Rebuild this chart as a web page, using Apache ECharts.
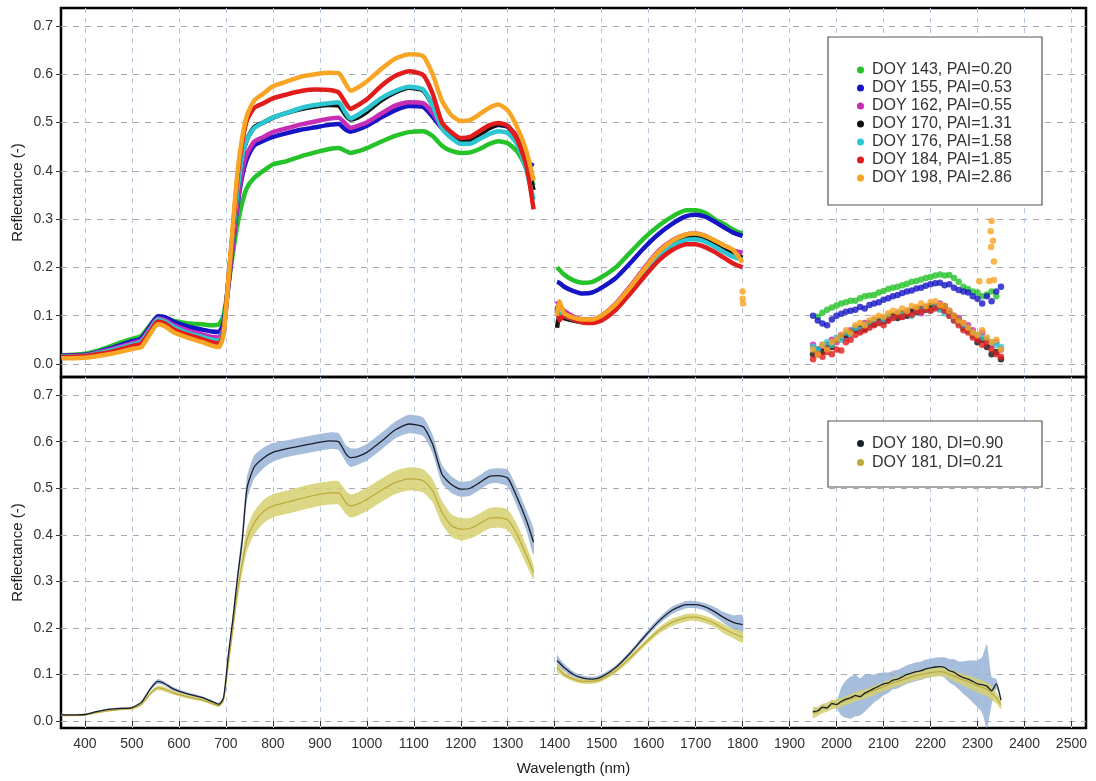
<!DOCTYPE html>
<html>
<head>
<meta charset="utf-8">
<script src="https://cdn.jsdelivr.net/npm/echarts@6/dist/echarts.min.js"></script>
<style>
  html, body { margin: 0; padding: 0; background: #fff; }
  #chart { width: 1096px; height: 781px; }
</style>
</head>
<body>
<div id="chart"></div>
<script>
// ---- wavelength grids (nm) for the three usable spectral windows ----
const wlA = [350,375,400,425,450,475,500,520,540,555,570,590,620,650,670,685,695,705,715,725,735,745,760,780,800,830,860,890,920,940,955,965,980,1000,1030,1060,1090,1120,1140,1160,1180,1200,1220,1240,1260,1280,1300,1320,1340,1355];
const wlB = [1405,1410,1420,1440,1460,1480,1500,1530,1560,1590,1620,1650,1680,1700,1720,1740,1760,1780,1800];
const wlC = [1950,1960,1970,1980,1990,2000,2010,2020,2030,2040,2050,2060,2070,2080,2090,2100,2110,2120,2130,2140,2150,2160,2170,2180,2190,2200,2210,2220,2230,2240,2250,2260,2270,2280,2290,2300,2310,2320,2330,2340,2350];

// ---- axis ticks ----
const xTicks = [400,500,600,700,800,900,1000,1100,1200,1300,1400,1500,1600,1700,1800,1900,2000,2100,2200,2300,2400,2500];
const yTicks = [0,0.1,0.2,0.3,0.4,0.5,0.6,0.7];

// ---- upper panel: reflectance by acquisition date ----
const namesTop = ['DOY 143, PAI=0.20','DOY 155, PAI=0.53','DOY 162, PAI=0.55','DOY 170, PAI=1.31','DOY 176, PAI=1.58','DOY 184, PAI=1.85','DOY 198, PAI=2.86'];
const colorsTop = ['#26c229','#1515c6','#c42db4','#111111','#2cc6d2','#e11c1c','#f8a424'];

const r143A = [.018,.019,.021,.027,.035,.044,.052,.058,.082,.098,.096,.089,.084,.082,.080,.082,.10,.16,.23,.29,.335,.365,.385,.40,.413,.42,.43,.438,.445,.447,.441,.437,.44,.447,.46,.472,.48,.482,.472,.452,.441,.437,.438,.445,.455,.461,.457,.44,.405,.37];
const r155A = [.017,.018,.019,.024,.031,.039,.047,.053,.080,.099,.097,.087,.077,.071,.067,.066,.085,.16,.25,.33,.39,.425,.452,.462,.47,.478,.485,.49,.495,.497,.485,.481,.485,.493,.51,.525,.534,.532,.512,.488,.47,.463,.464,.476,.488,.495,.491,.468,.42,.41];
const r162A = [.016,.017,.018,.023,.029,.036,.043,.049,.076,.094,.091,.080,.069,.061,.056,.055,.075,.16,.25,.335,.40,.435,.46,.47,.48,.488,.496,.502,.508,.51,.497,.489,.493,.50,.518,.535,.542,.54,.52,.49,.474,.467,.468,.48,.492,.497,.492,.47,.415,.38];
const r170A = [.015,.016,.017,.021,.026,.032,.038,.044,.071,.090,.086,.074,.062,.053,.047,.044,.070,.17,.27,.36,.43,.465,.49,.50,.51,.52,.528,.533,.536,.535,.515,.506,.51,.522,.545,.562,.572,.566,.535,.49,.47,.461,.462,.474,.488,.496,.492,.465,.415,.36];
const r176A = [.015,.016,.017,.022,.027,.033,.040,.046,.073,.092,.088,.076,.064,.056,.050,.048,.070,.17,.27,.36,.43,.465,.488,.50,.51,.52,.53,.536,.54,.542,.52,.508,.515,.528,.55,.565,.574,.568,.535,.488,.468,.456,.456,.466,.476,.482,.478,.455,.40,.34];
const r184A = [.014,.015,.016,.020,.024,.030,.037,.042,.069,.088,.084,.071,.060,.051,.045,.042,.065,.17,.28,.39,.46,.505,.53,.54,.55,.558,.565,.568,.567,.562,.54,.528,.535,.548,.575,.596,.606,.598,.56,.50,.48,.468,.47,.482,.494,.499,.493,.465,.41,.32];
const r198A = [.012,.012,.013,.016,.020,.025,.031,.035,.064,.082,.078,.065,.054,.045,.038,.035,.060,.17,.29,.40,.47,.515,.545,.56,.575,.585,.595,.60,.603,.602,.58,.566,.572,.585,.61,.632,.641,.637,.60,.545,.515,.503,.505,.517,.53,.537,.525,.49,.44,.38];

const r143B = [.20,.195,.185,.173,.168,.17,.18,.20,.23,.26,.285,.305,.318,.318,.313,.30,.29,.278,.27];
const r155B = [.17,.168,.16,.151,.146,.148,.158,.178,.208,.24,.268,.29,.306,.309,.305,.295,.283,.272,.265];
const r162B = [.13,.12,.11,.098,.092,.092,.10,.125,.16,.198,.233,.256,.268,.27,.265,.255,.245,.235,.23];
const r170B = [.075,.10,.095,.09,.087,.088,.096,.12,.155,.192,.226,.249,.261,.262,.257,.247,.236,.226,.22];
const r176B = [.11,.105,.10,.092,.088,.088,.095,.118,.152,.188,.222,.245,.257,.258,.253,.243,.232,.222,.215];
const r184B = [.12,.09,.10,.092,.086,.085,.09,.112,.145,.18,.213,.236,.248,.248,.242,.232,.22,.208,.20];
const r198B = [.10,.13,.105,.096,.092,.092,.10,.124,.158,.196,.231,.255,.268,.27,.265,.256,.246,.236,.21];

const r143C = [null,.098,.106,.112,.117,.121,.125,.128,.131,.131,.136,.14,.142,.143,.148,.151,.155,.158,.16,.163,.166,.17,.172,.175,.178,.18,.183,.185,.183,.184,.178,.17,.16,.155,.15,.148,.14,.144,.15,.14,null];
const r155C = [.10,.09,.084,.08,.092,.10,.104,.108,.11,.112,.118,.115,.122,.125,.128,.133,.136,.14,.143,.147,.15,.152,.156,.158,.162,.165,.167,.168,.163,.165,.158,.153,.15,.148,.14,.135,.125,.14,.13,.15,.16];
const r162C = [.04,.02,.035,.03,.05,.045,.06,.055,.07,.075,.068,.085,.08,.09,.086,.095,.09,.10,.105,.098,.11,.108,.115,.105,.118,.112,.12,.125,.115,.11,.10,.095,.085,.08,.07,.06,.065,.05,.04,.045,.03];
const r170C = [.02,.03,.025,.04,.035,.05,.055,.06,.065,.07,.075,.072,.085,.082,.09,.088,.095,.10,.095,.105,.10,.11,.108,.115,.112,.12,.118,.115,.12,.105,.098,.09,.075,.07,.06,.045,.05,.035,.02,.025,.01];
const r176C = [.035,.03,.04,.045,.04,.055,.05,.065,.06,.075,.07,.08,.078,.09,.085,.092,.10,.095,.105,.102,.108,.10,.112,.11,.115,.11,.118,.112,.105,.10,.09,.085,.078,.07,.062,.06,.055,.05,.045,.04,.035];
const r184C = [.01,.02,.015,.025,.02,.03,.028,.045,.05,.06,.065,.07,.075,.08,.085,.08,.09,.095,.10,.097,.105,.102,.11,.108,.113,.11,.115,.12,.11,.10,.09,.08,.07,.065,.055,.05,.04,.045,.03,.02,.015];
const r198C = [.03,.02,.04,.03,.045,.05,.06,.07,.065,.08,.085,.08,.09,.095,.10,.098,.105,.11,.108,.115,.11,.12,.118,.125,.12,.128,.13,.122,.12,.11,.10,.09,.085,.075,.065,.06,.07,.055,.045,.05,.03];

// isolated noisy readings of DOY 198
const r198OddX = [2304,2325,2335,2329,2333,2328,2330,2335,1800,1800,1801];
const r198OddY = [.171,.172,.174,.242,.255,.275,.296,.212,.15,.135,.125];

// ---- lower panel: mean reflectance and spread (half-width) ----
const namesBot = ['DOY 180, DI=0.90','DOY 181, DI=0.21'];

const m180A = [.013,.013,.014,.02,.025,.027,.029,.04,.07,.085,.08,.068,.058,.05,.042,.036,.05,.14,.22,.31,.39,.50,.545,.565,.577,.585,.591,.597,.602,.60,.575,.566,.568,.577,.60,.625,.638,.632,.595,.53,.508,.498,.50,.512,.525,.527,.522,.48,.43,.384];
const s180A = [.002,.002,.002,.002,.002,.002,.002,.003,.004,.005,.004,.004,.003,.003,.003,.003,.004,.006,.01,.015,.02,.025,.025,.022,.02,.018,.018,.018,.018,.018,.018,.02,.018,.018,.018,.018,.02,.02,.02,.02,.018,.016,.016,.016,.016,.016,.018,.02,.022,.028];
const m181A = [.012,.012,.013,.018,.022,.025,.027,.036,.06,.071,.068,.06,.052,.045,.038,.033,.045,.12,.2,.28,.34,.39,.425,.45,.462,.47,.478,.485,.49,.49,.47,.462,.466,.476,.495,.512,.52,.516,.495,.448,.42,.412,.414,.424,.435,.437,.432,.40,.355,.319];
const s181A = [.002,.002,.002,.002,.002,.002,.003,.003,.004,.005,.005,.004,.004,.003,.003,.003,.005,.008,.012,.018,.022,.025,.025,.025,.025,.025,.025,.025,.025,.025,.025,.025,.025,.025,.025,.025,.025,.025,.025,.025,.024,.024,.022,.022,.022,.022,.022,.022,.02,.015];

const m180B = [.13,.125,.115,.10,.092,.09,.095,.115,.145,.18,.213,.238,.25,.25,.245,.235,.222,.212,.207];
const s180B = [.012,.01,.008,.006,.005,.005,.005,.005,.005,.006,.007,.008,.008,.008,.008,.01,.012,.015,.02];
const m181B = [.115,.11,.10,.09,.085,.085,.09,.108,.135,.165,.193,.212,.222,.223,.218,.21,.198,.188,.18];
const s181B = [.01,.008,.006,.005,.005,.005,.005,.005,.006,.006,.007,.008,.008,.008,.008,.008,.01,.01,.012];

const m180C = [.02,.022,.03,.028,.038,.035,.042,.047,.05,.055,.052,.06,.065,.07,.075,.08,.082,.088,.09,.095,.10,.103,.106,.108,.112,.114,.116,.117,.115,.108,.105,.098,.093,.09,.085,.08,.078,.075,.065,.08,.045];
const s180C = [.006,.006,.006,.006,.006,.008,.03,.04,.045,.045,.04,.04,.035,.03,.028,.025,.022,.02,.02,.02,.02,.02,.02,.02,.02,.02,.02,.02,.022,.025,.028,.03,.035,.04,.045,.05,.06,.09,.03,.01,.005];
const m181C = [.018,.02,.027,.03,.035,.037,.04,.044,.048,.052,.055,.058,.062,.066,.07,.074,.078,.082,.085,.088,.092,.095,.098,.10,.102,.104,.105,.106,.105,.10,.097,.092,.088,.085,.08,.076,.072,.068,.06,.05,.035];
const s181C = [.012,.01,.01,.01,.01,.01,.01,.01,.01,.01,.01,.01,.01,.01,.01,.01,.01,.01,.01,.01,.01,.01,.01,.01,.01,.01,.01,.01,.01,.01,.012,.012,.012,.014,.014,.015,.015,.015,.015,.012,.01];

// ---- helpers ----
const pairs = (xs, ys) => xs.map((x, i) => [x, ys[i] == null ? '-' : ys[i]]);

function topLine(name, color, xs, ys) {
  return { name, type: 'line', xAxisIndex: 0, yAxisIndex: 0, color,
    data: pairs(xs, ys), showSymbol: false, smooth: 0.2,
    lineStyle: { width: 4.5, color }, silent: true };
}
function topDots(name, color, xs, ys) {
  return { name, type: 'scatter', xAxisIndex: 0, yAxisIndex: 0, color,
    data: pairs(xs, ys), symbolSize: 6.5, itemStyle: { color }, silent: true };
}
function botLine(name, color, xs, ys, width) {
  return { name, type: 'line', xAxisIndex: 1, yAxisIndex: 1, color,
    data: pairs(xs, ys), showSymbol: false, smooth: 0.2,
    lineStyle: { width, color }, silent: true, z: 4 };
}
// spread band: polygon between mean - s and mean + s, placed through the axes
function band(xs, mean, spread, fill) {
  const rows = xs.map((x, i) => [x, mean[i] - spread[i], mean[i] + spread[i]]);
  return {
    type: 'custom', xAxisIndex: 1, yAxisIndex: 1, data: rows, silent: true, z: 3,
    encode: { x: 0, y: [1, 2] },
    renderItem(params, api) {
      if (params.dataIndexInside !== 0) return null;
      const n = params.dataInsideLength;
      const pts = [];
      for (let i = 0; i < n; i++) pts.push(api.coord([api.value(0, i), api.value(2, i)]));
      for (let i = n - 1; i >= 0; i--) pts.push(api.coord([api.value(0, i), api.value(1, i)]));
      return { type: 'polygon', shape: { points: pts, smooth: 0.2 }, style: { fill } };
    }
  };
}

// ---- series ----
const topSets = [
  [r143A, r143B, r143C], [r155A, r155B, r155C], [r162A, r162B, r162C],
  [r170A, r170B, r170C], [r176A, r176B, r176C], [r184A, r184B, r184C],
  [r198A, r198B, r198C]
];
const series = [];
topSets.forEach((set, k) => {
  const name = namesTop[k], color = colorsTop[k];
  series.push(topLine(name, color, wlA, set[0]));
  series.push(topLine(name, color, wlB, set[1]));
  series.push(topDots(name, color, wlC, set[2]));
});
series.push(topDots(namesTop[6], colorsTop[6], r198OddX, r198OddY));

const blueFill = 'rgba(150,178,214,0.85)';
const yellowFill = 'rgba(214,208,110,0.85)';
const col180 = '#1a1f2e', col181 = '#bba93a';
[[wlA, m180A, s180A], [wlB, m180B, s180B], [wlC, m180C, s180C]].forEach(d => series.push(band(d[0], d[1], d[2], blueFill)));
[[wlA, m181A, s181A], [wlB, m181B, s181B], [wlC, m181C, s181C]].forEach(d => series.push(band(d[0], d[1], d[2], yellowFill)));
[[wlA, m181A], [wlB, m181B], [wlC, m181C]].forEach(d => series.push(botLine(namesBot[1], col181, d[0], d[1], 1.2)));
[[wlA, m180A], [wlB, m180B], [wlC, m180C]].forEach(d => series.push(botLine(namesBot[0], col180, d[0], d[1], 1.3)));

// ---- axes ----
const FONT = 'Liberation Sans, Arial, Helvetica, sans-serif';
const vGrid = { show: true, lineStyle: { color: '#b4c6e0', width: 1, type: [5, 5] } };
const hGrid = { show: true, lineStyle: { color: '#a9a9a9', width: 1, type: [6, 6] } };

function xAxis(gi, labelled) {
  return {
    type: 'value', gridIndex: gi, min: 349, max: 2531,
    axisLine: { show: false },
    axisTick: { show: labelled, customValues: xTicks, length: 5, lineStyle: { color: '#333' } },
    axisLabel: { show: labelled, customValues: xTicks, fontSize: 14, color: '#333', margin: 9, fontFamily: FONT,
      formatter: v => String(Math.round(v)) },
    splitLine: vGrid,
    name: labelled ? 'Wavelength (nm)' : '', nameLocation: 'middle', nameGap: 33, nameMoveOverlap: false,
    nameTextStyle: { fontSize: 15, color: '#222', fontFamily: FONT }
  };
}
function yAxis(gi, min, max) {
  return {
    type: 'value', gridIndex: gi, min, max,
    axisLine: { show: false },
    axisTick: { show: true, customValues: yTicks, length: 5, lineStyle: { color: '#333' } },
    axisLabel: { customValues: yTicks, fontSize: 14, color: '#333', margin: 8, fontFamily: FONT,
      formatter: v => v.toFixed(1) },
    splitLine: hGrid,
    name: 'Reflectance (-)', nameLocation: 'middle', nameGap: 36, nameMoveOverlap: false,
    nameTextStyle: { fontSize: 15, color: '#222', fontFamily: FONT }
  };
}

const legendBase = {
  orient: 'vertical', icon: 'circle', itemWidth: 7, itemHeight: 7, itemGap: 0,
  selectedMode: false, z: 6
};

const gridBase = { left: 61, width: 1025, show: true, borderColor: '#000', borderWidth: 2.5,
  backgroundColor: 'transparent', outerBoundsMode: 'none', containLabel: false };

const option = {
  animation: false,
  backgroundColor: '#fff',
  grid: [
    Object.assign({}, gridBase, { top: 8, height: 369 }),
    Object.assign({}, gridBase, { top: 377, height: 351 })
  ],
  xAxis: [xAxis(0, false), xAxis(1, true)],
  yAxis: [yAxis(0, -0.027, 0.737), yAxis(1, -0.015, 0.739)],
  legend: [
    Object.assign({}, legendBase, { data: namesTop, left: 852, top: 56,
      textStyle: { fontSize: 16, lineHeight: 18, color: '#333', fontFamily: FONT, padding: [0, 0, 0, 3] } }),
    Object.assign({}, legendBase, { data: namesBot, left: 852, top: 429,
      textStyle: { fontSize: 16, lineHeight: 19, color: '#333', fontFamily: FONT, padding: [0, 0, 0, 3] } })
  ],
  graphic: {
    z: 5,
    elements: [
      { type: 'rect', z: 5, shape: { x: 828, y: 37, width: 214, height: 168 },
        style: { fill: '#fff', stroke: '#555', lineWidth: 1.2 } },
      { type: 'rect', z: 5, shape: { x: 828, y: 421, width: 214, height: 66 },
        style: { fill: '#fff', stroke: '#555', lineWidth: 1.2 } }
    ]
  },
  series
};

const chart = echarts.init(document.getElementById('chart'), null, { renderer: 'canvas' });
chart.setOption(option);
</script>
</body>
</html>
